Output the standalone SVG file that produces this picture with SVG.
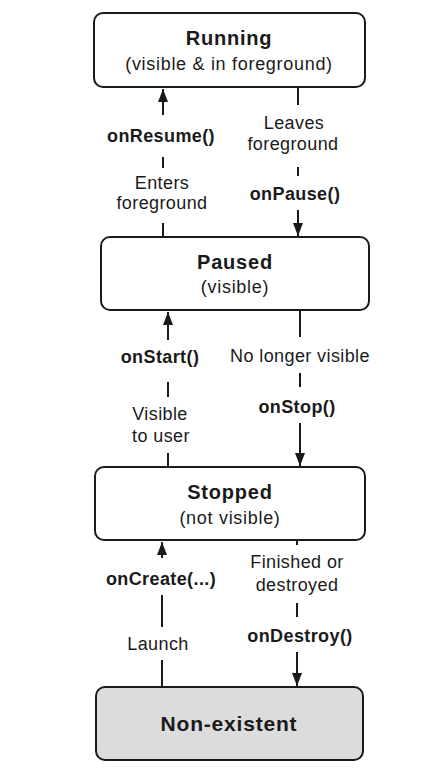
<svg xmlns="http://www.w3.org/2000/svg" width="437" height="773" viewBox="0 0 437 773">
<defs>
<style>
.box{fill:#fff;stroke:#1a1a1a;stroke-width:2}
.gray{fill:#dcdcdc}
.t{font-family:"Liberation Sans",Arial,sans-serif;fill:#1a1a1a;text-anchor:middle}
.title{font-size:20px;font-weight:bold;letter-spacing:0.8px}
.sub{font-size:18px;letter-spacing:0.7px}
.lbl{font-size:18px;letter-spacing:0.4px}
.b{font-weight:bold}
.ln{stroke:#1a1a1a;stroke-width:2;fill:none}
</style>
<marker id="ah" markerUnits="userSpaceOnUse" markerWidth="13" markerHeight="10" refX="13" refY="5" orient="auto" viewBox="0 0 13 10">
<path d="M0,0 L13,5 L0,10 Z" fill="#1a1a1a"/>
</marker>
</defs>
<g id="running">
<rect class="box" x="94" y="13" width="271" height="74" rx="9"/>
<text class="t title" x="229" y="45">Running</text>
<text class="t sub" x="229" y="70">(visible &amp; in foreground)</text>
</g>
<g id="paused">
<rect class="box" x="101" y="237" width="268" height="73" rx="9"/>
<text class="t title" x="235" y="269">Paused</text>
<text class="t sub" x="235" y="293">(visible)</text>
</g>
<g id="stopped">
<rect class="box" x="95" y="467" width="270" height="73" rx="9"/>
<text class="t title" x="230" y="499">Stopped</text>
<text class="t sub" x="230" y="524">(not visible)</text>
</g>
<g id="nonexistent">
<rect class="box gray" x="96" y="687" width="267" height="73" rx="9"/>
<text class="t title" x="229" y="731" style="font-size:21px">Non-existent</text>
</g>
<g id="connectors">
<line class="ln" x1="163" y1="115" x2="163" y2="89" marker-end="url(#ah)"/>
<line class="ln" x1="163" y1="157" x2="163" y2="168"/>
<line class="ln" x1="163" y1="223" x2="163" y2="237"/>
<line class="ln" x1="298" y1="87" x2="298" y2="105"/>
<line class="ln" x1="298" y1="167" x2="298" y2="176"/>
<line class="ln" x1="298" y1="210" x2="298" y2="236" marker-end="url(#ah)"/>

<line class="ln" x1="168" y1="340" x2="168" y2="312" marker-end="url(#ah)"/>
<line class="ln" x1="168" y1="382" x2="168" y2="397"/>
<line class="ln" x1="168" y1="453" x2="168" y2="467"/>
<line class="ln" x1="300" y1="310" x2="300" y2="337"/>
<line class="ln" x1="300" y1="373" x2="300" y2="387"/>
<line class="ln" x1="300" y1="423" x2="300" y2="466" marker-end="url(#ah)"/>

<line class="ln" x1="162" y1="558" x2="162" y2="542" marker-end="url(#ah)"/>
<line class="ln" x1="162" y1="595" x2="162" y2="627"/>
<line class="ln" x1="162" y1="660" x2="162" y2="687"/>
<line class="ln" x1="297" y1="540" x2="297" y2="545"/>
<line class="ln" x1="297" y1="603" x2="297" y2="617"/>
<line class="ln" x1="297" y1="652" x2="297" y2="686" marker-end="url(#ah)"/>
</g>
<g id="labels">
<text class="t lbl b" x="161" y="142">onResume()</text>
<text class="t lbl" x="162" y="189">Enters</text>
<text class="t lbl" x="162" y="209">foreground</text>
<text class="t lbl" x="294" y="129">Leaves</text>
<text class="t lbl" x="293" y="150">foreground</text>
<text class="t lbl b" x="295" y="200">onPause()</text>

<text class="t lbl b" x="160" y="363">onStart()</text>
<text class="t lbl" x="160" y="420">Visible</text>
<text class="t lbl" x="161" y="442">to user</text>
<text class="t lbl" x="300" y="362">No longer visible</text>
<text class="t lbl b" x="297" y="413">onStop()</text>

<text class="t lbl b" x="161" y="585">onCreate(...)</text>
<text class="t lbl" x="158" y="650">Launch</text>
<text class="t lbl" x="297" y="568">Finished or</text>
<text class="t lbl" x="297" y="591">destroyed</text>
<text class="t lbl b" x="300" y="642">onDestroy()</text>
</g>
</svg>
